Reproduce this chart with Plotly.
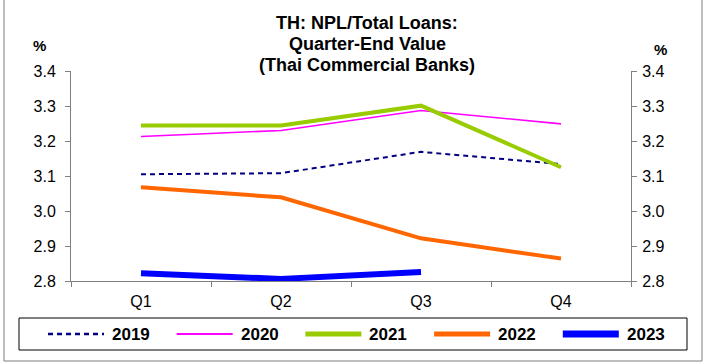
import plotly.graph_objects as go

categories = ["Q1", "Q2", "Q3", "Q4"]
years = ["2019", "2020", "2021", "2022", "2023"]
v2019 = [3.105, 3.108, 3.169, 3.134]
v2020 = [3.213, 3.230, 3.287, 3.249]
v2021 = [3.244, 3.244, 3.301, 3.125]
v2022 = [3.068, 3.039, 2.922, 2.864]
v2023 = [2.822, 2.806, 2.826]
series_values = [v2019, v2020, v2021, v2022, v2023]
y_ticks = [2.8, 2.9, 3.0, 3.1, 3.2, 3.3, 3.4]

colors = ["#000080", "#FF00FF", "#99CC00", "#FF6600", "#0000FF"]
widths = [2, 1.6, 4, 4, 6]
dashes = ["5px,4px", "solid", "solid", "solid", "solid"]

W, H = 704, 364
L, R, T, B = 71, 631, 71, 281
FONT = "Liberation Sans, Arial, sans-serif"
AX = "#808080"


def px(x):
    return (x - L) / (R - L)


def py(y):
    return (B - y) / (B - T)


fig = go.Figure()
for name, vals, c, w, d in zip(years, series_values, colors, widths, dashes):
    fig.add_trace(go.Scatter(
        x=categories[:len(vals)], y=vals, mode="lines", name=name,
        line=dict(color=c, width=w, dash=d), showlegend=False,
    ))
# carrier trace for the right-hand axis
fig.add_trace(go.Scatter(x=categories, y=[None] * len(categories), yaxis="y2",
                         showlegend=False, hoverinfo="skip"))

shapes = []
annotations = []

# outer chart border
shapes.append(dict(type="rect", xref="paper", yref="paper",
                   x0=px(4), x1=px(702), y0=py(361), y1=py(-5),
                   line=dict(color="#7f7f7f", width=1)))

# title lines
title_lines = ["TH: NPL/Total Loans:", "Quarter-End Value", "(Thai Commercial Banks)"]
for line, yc in zip(title_lines, [23, 44, 65]):
    annotations.append(dict(text="<b>%s</b>" % line, xref="paper", yref="paper",
                            x=px(367), y=py(yc), xanchor="center", yanchor="middle",
                            showarrow=False, font=dict(family=FONT, size=18, color="black")))

# axis unit labels
annotations.append(dict(text="<b>%</b>", xref="paper", yref="paper", x=px(39), y=py(45),
                        xanchor="center", yanchor="middle", showarrow=False,
                        font=dict(family=FONT, size=15, color="black")))
annotations.append(dict(text="<b>%</b>", xref="paper", yref="paper", x=px(660), y=py(50),
                        xanchor="center", yanchor="middle", showarrow=False,
                        font=dict(family=FONT, size=15, color="black")))

# legend box and entries
shapes.append(dict(type="rect", xref="paper", yref="paper",
                   x0=px(19), x1=px(687), y0=py(350), y1=py(318),
                   line=dict(color="black", width=1), fillcolor="white"))
for i, (name, c, w, d) in enumerate(zip(years, colors, widths, dashes)):
    x0 = 48 + i * 128.7
    shapes.append(dict(type="line", xref="paper", yref="paper",
                       x0=px(x0), x1=px(x0 + 56), y0=py(334), y1=py(334),
                       line=dict(color=c, width=w + (1 if w >= 4 else 0.4), dash=d)))
    annotations.append(dict(text="<b>%s</b>" % name, xref="paper", yref="paper",
                            x=px(x0 + 62), y=py(334.5), xanchor="left", yanchor="middle",
                            showarrow=False, font=dict(family=FONT, size=17, color="black")))

axis_common = dict(range=[2.8, 3.4], tickvals=y_ticks, tickformat=".1f",
                   ticks="outside", ticklen=5, tickcolor=AX, tickwidth=1,
                   showline=True, linecolor=AX, linewidth=1, showgrid=False,
                   zeroline=False, tickfont=dict(family=FONT, size=16, color="black"))

fig.update_layout(
    width=W, height=H,
    margin=dict(l=L, r=W - R, t=T, b=H - B, pad=0),
    paper_bgcolor="white", plot_bgcolor="white",
    showlegend=False,
    xaxis=dict(type="category", categoryarray=categories, range=[-0.5, 3.5],
               tickson="boundaries", ticks="outside", ticklen=5, tickcolor=AX,
               showline=True, linecolor=AX, linewidth=1, showgrid=False,
               ticklabelstandoff=6,
               tickfont=dict(family=FONT, size=16, color="black")),
    yaxis=dict(side="left", ticklabelstandoff=6, **axis_common),
    yaxis2=dict(side="right", overlaying="y", ticklabelstandoff=2, **axis_common),
    shapes=shapes,
    annotations=annotations,
)

fig.write_html("out.html", config={"displayModeBar": False},
               post_script="document.body.style.margin='0';document.body.style.overflow='hidden';")
